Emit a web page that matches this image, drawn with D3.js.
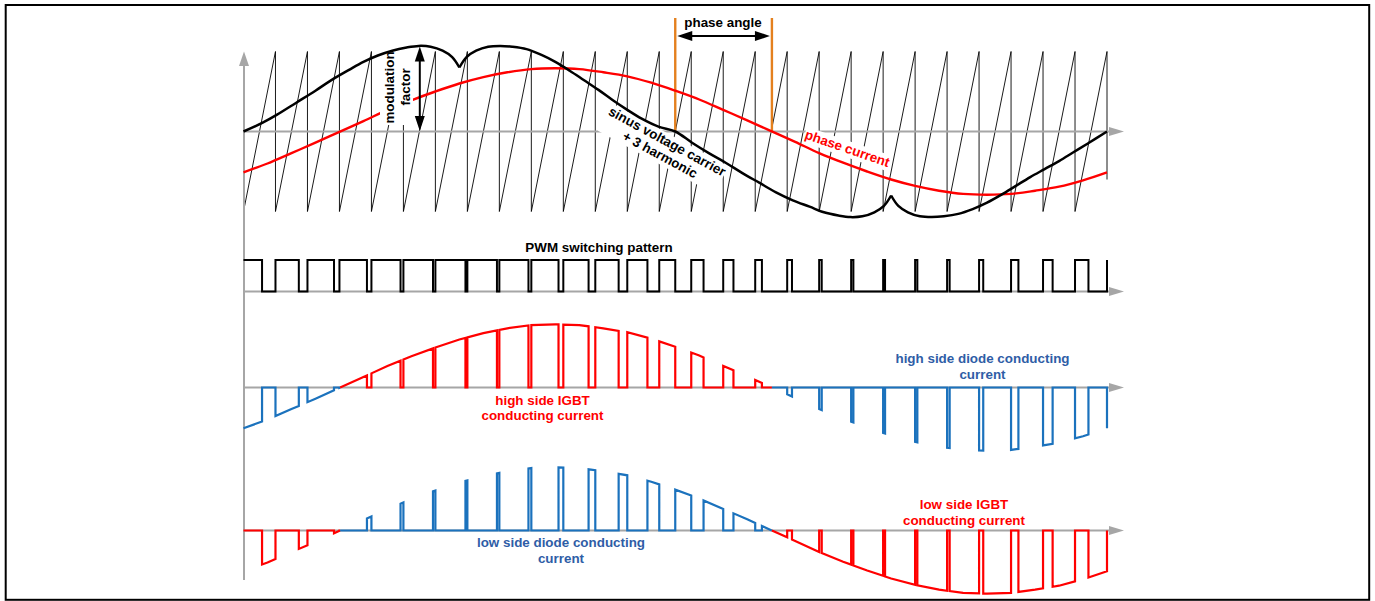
<!DOCTYPE html>
<html><head><meta charset="utf-8">
<script src="https://cdn.jsdelivr.net/npm/d3@7/dist/d3.min.js"></script>
<style>
body{margin:0;background:#fff}
svg{display:block}
text{font-family:"Liberation Sans",Arial,sans-serif;font-weight:bold;font-size:13.4px}
</style>
</head><body>
<svg id="c" width="1375" height="601"></svg>
<script>
// ---------------- data ----------------
const carrierPeriods = 27;
// fraction of each carrier period during which the PWM output is high
const pwmHighFraction = [0.58,0.73,0.83,0.86,0.91,0.925,0.94,0.925,0.91,0.85,0.79,0.73,0.63,
  0.50,0.385,0.32,0.21,0.15,0.08,0.07,0.06,0.07,0.08,0.13,0.23,0.30,0.42];
// modulation (sinus voltage + 3rd harmonic), electrical angle in degrees
const modAngle = [0,8,14,22,30,36,44,50,56,62,68,73,78,83,87,90,
  93,97,102,107,112,118,124,130,136,142,148,154,160,166,173,180,
  187,194,201,208,215,222,229,236,242,248,253,258,263,267,270,
  273,277,282,287,292,298,304,310,316,322,328,334,340,346,352,360];
const modValue = [0,0.11,0.21,0.36,0.51,0.63,0.77,0.87,0.95,1.01,1.05,1.07,1.06,1.01,0.93,0.80,
  0.93,1.01,1.06,1.07,1.06,1.03,0.96,0.87,0.76,0.64,0.52,0.39,0.27,0.16,0.06,0,
  -0.14,-0.27,-0.39,-0.52,-0.64,-0.76,-0.86,-0.94,-1.01,-1.05,-1.07,-1.06,-1.01,-0.93,-0.80,
  -0.93,-1.01,-1.06,-1.07,-1.06,-1.03,-0.97,-0.89,-0.79,-0.68,-0.57,-0.47,-0.37,-0.26,-0.15,0];
const cuspAngles = [90, 270];
// phase current
const currentAngle = [0,10,20,30,40,50,60,70,80,90,100,110,120,130,140,150,160,170,180,
  190,200,210,220,230,240,250,260,270,280,290,300,310,320,330,340,350,360];
const currentValue = [-0.51,-0.40,-0.27,-0.14,-0.004,0.13,0.27,0.39,0.50,0.60,0.68,0.74,0.78,0.79,0.78,0.74,0.69,0.61,0.51,
  0.40,0.27,0.14,0.004,-0.13,-0.27,-0.39,-0.50,-0.60,-0.68,-0.74,-0.78,-0.79,-0.78,-0.74,-0.69,-0.61,-0.51];
const phaseMarkAngles = [180, 220.3];
const modulationMarkAngle = 73.5;
const modulationMarkValue = 1.07;

(function(){
// ---------------- colours ----------------
const RED = "#ff0000", BLUE = "#1b72bd", BLUE_TXT = "#2f5da6", GRAY = "#a6a6a6", ORANGE = "#e4801e";

// ---------------- scales ----------------
const svg = d3.select("#c");
const x = d3.scaleLinear().domain([0, 360]).range([243.5, 1107]);
const yTop = d3.scaleLinear().domain([-1, 1]).range([211.5, 51.5]);
const yPwm = d3.scaleLinear().domain([0, 1]).range([291.5, 260]);
const yHi = d3.scaleLinear().domain([-1, 1]).range([467.5, 307.5]);
const yLo = d3.scaleLinear().domain([-1, 1]).range([610.5, 450.5]);
const PERIOD = 360 / carrierPeriods;
const I = d3.scaleLinear().domain(currentAngle).range(currentValue);

// zero crossings of the phase current
const zeroCross = [];
for (let i = 1; i < currentAngle.length; i++) {
  const a = currentValue[i-1], b = currentValue[i];
  if (a * b < 0) zeroCross.push(currentAngle[i-1] + (currentAngle[i]-currentAngle[i-1]) * (-a) / (b - a));
}

// frame
svg.append("rect").attr("x",5.7).attr("y",5).attr("width",1363.5).attr("height",594.8)
  .attr("fill","#fff").attr("stroke","#000").attr("stroke-width",2);

function tri(g, pts, fill){
  g.append("polygon").attr("points", pts.map(p=>p.join(",")).join(" ")).attr("fill", fill);
}
// ---------------- carrier ----------------
const carrierG = svg.append("g");
let saw = `M${x(0)},${yTop(-1)}`;
for (let k = 0; k < carrierPeriods; k++) {
  const t1 = (k+1)*PERIOD;
  saw += `L${x(t1)},${yTop(1)}L${x(t1)},${yTop(k === carrierPeriods-1 ? -0.6 : -1)}`;
}
carrierG.append("path").attr("d", saw).attr("fill","none").attr("stroke","#000").attr("stroke-width",0.9);

// ---------------- axes ----------------
const axes = svg.append("g");
axes.append("line").attr("x1",244).attr("x2",244).attr("y1",64).attr("y2",580)
  .attr("stroke",GRAY).attr("stroke-width",2);
tri(axes, [[244,51.5],[239,66],[249,66]], GRAY);
[yTop(0), yPwm(0), yHi(0), yLo(0)].forEach(yy => {
  axes.append("line").attr("x1",244).attr("x2",1111).attr("y1",yy).attr("y2",yy)
    .attr("stroke",GRAY).attr("stroke-width",2);
  tri(axes, [[1124,yy],[1109,yy-4.5],[1109,yy+4.5]], GRAY);
});

// phase-angle marks
phaseMarkAngles.forEach(a => {
  svg.append("line").attr("x1",x(a)).attr("x2",x(a)).attr("y1",18).attr("y2",yTop(0))
    .attr("stroke",ORANGE).attr("stroke-width",2.4);
});
// phase current
const curPts = currentAngle.map((a,i)=>[a,currentValue[i]]);
svg.append("path").attr("d", d3.line().x(d=>x(d[0])).y(d=>yTop(d[1])).curve(d3.curveCatmullRom)(curPts))
  .attr("fill","none").attr("stroke",RED).attr("stroke-width",2.4);

// white label boxes
svg.append("rect").attr("x",380).attr("y",51).attr("width",33).attr("height",74).attr("fill","#fff");
const sinG = svg.append("g").attr("transform","translate(665,145.5) rotate(28.5)");
sinG.append("rect").attr("x",-66).attr("y",-12).attr("width",132).attr("height",31).attr("fill","#fff");
const pcG = svg.append("g").attr("transform","translate(847.5,148) rotate(19)");
pcG.append("rect").attr("x",-45).attr("y",-7).attr("width",90).attr("height",16).attr("fill","#fff");

// modulation curve (pieces split at the cusps)
const modPts = modAngle.map((a,i)=>[a,modValue[i]]);
const bounds = [0, ...cuspAngles, 360];
for (let i = 0; i < bounds.length-1; i++) {
  const seg = modPts.filter(p => p[0] >= bounds[i] && p[0] <= bounds[i+1]);
  svg.append("path").attr("d", d3.line().x(d=>x(d[0])).y(d=>yTop(d[1])).curve(d3.curveCatmullRom)(seg))
    .attr("fill","none").attr("stroke","#000").attr("stroke-width",2.5);
}

// labels in top panel
sinG.append("text").attr("text-anchor","middle").attr("y",0).text("sinus voltage carrier");
sinG.append("text").attr("text-anchor","middle").attr("y",15).text("+ 3 harmonic");
pcG.append("text").attr("text-anchor","middle").attr("y",5).attr("fill",RED).text("phase current");
svg.append("text").attr("transform","translate(394,87.5) rotate(-90)").attr("text-anchor","middle").text("modulation");
svg.append("text").attr("transform","translate(410,87) rotate(-90)").attr("text-anchor","middle").text("factor");
svg.append("text").attr("x",723).attr("y",27).attr("text-anchor","middle").text("phase angle");

// modulation factor arrow
const mx = x(modulationMarkAngle), my1 = yTop(modulationMarkValue) + 0.5, my2 = yTop(0) - 0.5;
svg.append("line").attr("x1",mx).attr("x2",mx).attr("y1",my1+10).attr("y2",my2-10).attr("stroke","#000").attr("stroke-width",2);
tri(svg, [[mx,my1],[mx-5,my1+15],[mx+5,my1+15]], "#000");
tri(svg, [[mx,my2],[mx-5,my2-15],[mx+5,my2-15]], "#000");
// phase angle arrow
const ax1 = x(phaseMarkAngles[0]) + 2, ax2 = x(phaseMarkAngles[1]) - 2, ay = 36;
svg.append("line").attr("x1",ax1+10).attr("x2",ax2-10).attr("y1",ay).attr("y2",ay).attr("stroke","#000").attr("stroke-width",2);
tri(svg, [[ax1,ay],[ax1+15,ay-5],[ax1+15,ay+5]], "#000");
tri(svg, [[ax2,ay],[ax2-15,ay-5],[ax2-15,ay+5]], "#000");

// ---------------- PWM ----------------
const pwm = [[0,1]];
for (let k = 0; k < carrierPeriods; k++) {
  const t0 = k*PERIOD, tf = t0 + pwmHighFraction[k]*PERIOD, t1 = t0 + PERIOD;
  pwm.push([tf,1],[tf,0],[t1,0],[t1,1]);
}
svg.append("path").attr("d", d3.line().x(d=>x(d[0])).y(d=>yPwm(d[1]))(pwm))
  .attr("fill","none").attr("stroke","#000").attr("stroke-width",2).attr("stroke-linejoin","miter");
svg.append("text").attr("x",599).attr("y",251.5).attr("text-anchor","middle").text("PWM switching pattern");

// ---------------- high / low side currents ----------------
function follow(pts, a, b) {
  const inner = currentAngle.filter(c => c > a && c < b).concat(zeroCross.filter(z => z > a && z < b)).sort((p,q)=>p-q);
  pts.push({t:a, v:I(a)});
  inner.forEach(t => pts.push({t, v:I(t)}));
  pts.push({t:b, v:I(b)});
}
function buildPanel(high) {
  const pts = [];
  for (let k = 0; k < carrierPeriods; k++) {
    const t0 = k*PERIOD, tf = t0 + pwmHighFraction[k]*PERIOD, t1 = t0 + PERIOD;
    if (high) { follow(pts, t0, tf); pts.push({t:tf,v:0},{t:t1,v:0}); }
    else { pts.push({t:t0,v:0},{t:tf,v:0}); follow(pts, tf, t1); pts.push({t:t1,v:0}); }
  }
  if (high) pts.push({t:360, v:I(360)});
  const out = [pts[0]];
  for (let i = 1; i < pts.length; i++) {
    const a = pts[i-1], b = pts[i];
    zeroCross.forEach(z => {
      if (z > a.t && z < b.t) out.push({t:z, v:a.v + (b.v-a.v)*(z-a.t)/(b.t-a.t)});
    });
    out.push(b);
  }
  return out;
}
function drawPanel(high, yS) {
  const pts = buildPanel(high);
  const colorOf = (a,b) => {
    const s = I((a.t+b.t)/2);
    const pos = s >= 0;
    return high ? (pos ? RED : BLUE) : (pos ? BLUE : RED);
  };
  const groups = [];
  for (let i = 1; i < pts.length; i++) {
    const a = pts[i-1], b = pts[i];
    if (a.t === b.t && a.v === b.v) continue;
    const c = colorOf(a,b);
    const g = groups[groups.length-1];
    if (g && g.c === c) g.p.push(b); else groups.push({c, p:[a,b]});
  }
  const line = d3.line().x(d=>x(d.t)).y(d=>yS(d.v));
  groups.forEach(g => svg.append("path").attr("d", line(g.p)).attr("fill","none")
    .attr("stroke", g.c).attr("stroke-width",2.2).attr("stroke-linejoin","miter"));
}
drawPanel(true, yHi);
drawPanel(false, yLo);

function label2(cx, y1, l1, l2, fill) {
  svg.append("text").attr("x",cx).attr("y",y1).attr("text-anchor","middle").attr("fill",fill).text(l1);
  svg.append("text").attr("x",cx).attr("y",y1+15.5).attr("text-anchor","middle").attr("fill",fill).text(l2);
}
label2(542.5, 404.5, "high side IGBT", "conducting current", RED);
label2(982.5, 363.3, "high side diode conducting", "current", BLUE_TXT);
label2(561, 547.3, "low side diode conducting", "current", BLUE_TXT);
label2(964, 509.3, "low side IGBT", "conducting current", RED);
})();
</script>
</body></html>
